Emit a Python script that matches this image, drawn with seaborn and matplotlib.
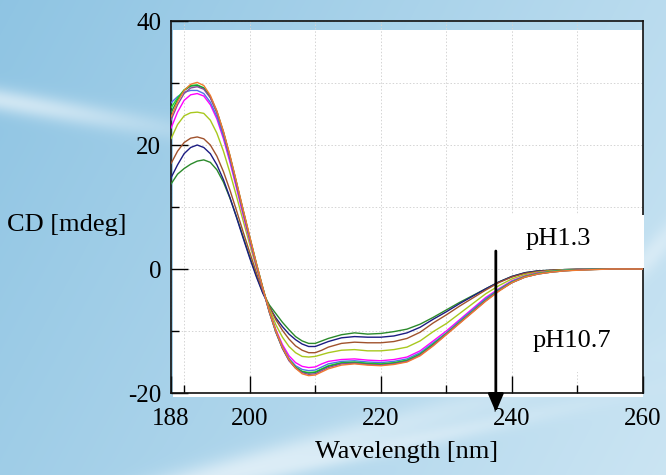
import numpy as np
import pandas as pd
import matplotlib
matplotlib.use("Agg")
import matplotlib.pyplot as plt
import seaborn as sns
from matplotlib.patches import Rectangle
from matplotlib.ticker import FixedLocator

# wavelength grid [nm]
wavelength = [188, 189, 190, 191, 192, 193, 194, 195, 196, 197, 198, 199, 200,
              201, 202, 203, 204, 205, 206, 207, 208, 209, 210, 211, 212,
              214, 216, 218, 220, 222, 224, 226, 228, 230, 232, 234, 236, 238,
              240, 242, 244, 246, 248, 250, 255, 260]

# CD [mdeg], curve 1 = pH1.3 ... curve 10 = pH10.7
cd_1 = [13.7, 15.3, 16.2, 16.9, 17.4, 17.6, 17.2, 16.0, 14.0, 11.4, 8.4, 5.2, 2.0,
        -1.0, -3.8, -5.8, -7.2, -8.6, -9.8, -10.9, -11.6, -12.0, -12.0, -11.6, -11.2,
        -10.6, -10.3, -10.5, -10.4, -10.1, -9.7, -8.9, -7.8, -6.6, -5.4, -4.3, -3.2, -2.1,
        -1.2, -0.6, -0.3, -0.2, -0.1, -0.05, 0, 0]
cd_2 = [14.7, 16.8, 18.6, 19.6, 20.0, 19.6, 18.6, 16.8, 14.4, 11.5, 8.3, 5.0, 1.8,
        -1.2, -3.9, -6.1, -7.9, -9.3, -10.5, -11.4, -12.1, -12.5, -12.5, -12.1, -11.7,
        -11.1, -10.9, -11.0, -11.0, -10.8, -10.3, -9.4, -8.1, -6.9, -5.6, -4.4, -3.2, -2.1,
        -1.2, -0.6, -0.3, -0.2, -0.1, -0.05, 0, 0]
cd_3 = [17.0, 19.0, 20.4, 21.1, 21.3, 21.0, 20.0, 18.2, 15.7, 12.7, 9.4, 6.0, 2.7,
        -0.5, -3.5, -6.1, -8.2, -9.9, -11.3, -12.4, -13.1, -13.5, -13.5, -13.1, -12.6,
        -12.0, -11.8, -11.9, -11.9, -11.7, -11.2, -10.2, -8.7, -7.4, -6.0, -4.7, -3.4, -2.2,
        -1.3, -0.7, -0.4, -0.2, -0.1, -0.05, 0, 0]
cd_4 = [21.0, 23.3, 24.7, 25.2, 25.3, 25.1, 24.0, 21.9, 19.0, 15.5, 11.7, 7.8, 4.0,
        0.3, -3.2, -6.4, -9.0, -11.0, -12.5, -13.5, -14.1, -14.2, -14.1, -13.8, -13.5,
        -13.1, -13.0, -13.2, -13.2, -13.0, -12.6, -11.6, -10.1, -8.8, -7.2, -5.6, -4.0, -2.7,
        -1.6, -0.9, -0.5, -0.3, -0.15, -0.1, 0, 0]
cd_5 = [22.7, 25.3, 27.2, 28.1, 28.3, 27.9, 26.5, 24.2, 21.0, 17.2, 13.0, 8.7, 4.6,
        0.6, -3.2, -6.8, -9.8, -12.2, -14.0, -15.1, -15.7, -15.9, -15.8, -15.3, -14.9,
        -14.6, -14.5, -14.7, -14.8, -14.6, -14.2, -13.2, -11.6, -10.0, -8.2, -6.4, -4.6, -3.2,
        -1.9, -1.1, -0.6, -0.4, -0.2, -0.1, 0, 0]
cd_6 = [26.8, 27.8, 28.5, 28.8, 28.8, 28.3, 26.9, 24.6, 21.4, 17.6, 13.4, 9.1, 4.9,
        0.8, -3.1, -6.8, -10.0, -12.5, -14.4, -15.6, -16.2, -16.4, -16.3, -15.8, -15.3,
        -14.9, -14.8, -15.0, -15.1, -14.9, -14.5, -13.5, -11.9, -10.3, -8.4, -6.6, -4.8, -3.3,
        -2.0, -1.2, -0.7, -0.4, -0.2, -0.1, 0, 0]
cd_7 = [26.0, 27.6, 28.9, 29.6, 29.7, 29.2, 27.7, 25.3, 22.0, 18.1, 13.8, 9.4, 5.1,
        0.9, -3.1, -6.9, -10.1, -12.7, -14.6, -15.8, -16.5, -16.7, -16.6, -16.1, -15.6,
        -15.1, -15.0, -15.2, -15.3, -15.1, -14.7, -13.7, -12.1, -10.4, -8.6, -6.8, -5.0, -3.4,
        -2.1, -1.2, -0.7, -0.4, -0.2, -0.1, 0, 0]
cd_8 = [25.2, 27.3, 28.8, 29.5, 29.6, 29.2, 27.8, 25.4, 22.1, 18.2, 13.9, 9.5, 5.2,
        1.0, -3.0, -6.9, -10.2, -12.8, -14.7, -15.9, -16.6, -16.8, -16.7, -16.2, -15.7,
        -15.2, -15.1, -15.3, -15.4, -15.2, -14.8, -13.8, -12.2, -10.5, -8.7, -6.9, -5.1, -3.5,
        -2.2, -1.3, -0.8, -0.5, -0.3, -0.15, 0, 0]
cd_9 = [24.0, 26.5, 28.3, 29.2, 29.4, 29.0, 27.6, 25.2, 21.9, 18.0, 13.7, 9.3, 5.0,
        0.8, -3.2, -7.0, -10.2, -12.8, -14.8, -16.0, -16.7, -17.0, -16.9, -16.4, -15.9,
        -15.3, -15.2, -15.4, -15.5, -15.3, -14.9, -13.9, -12.3, -10.5, -8.7, -6.9, -5.1, -3.5,
        -2.2, -1.3, -0.8, -0.5, -0.3, -0.15, 0, 0]
cd_10 = [24.5, 27.0, 28.8, 29.8, 30.1, 29.6, 28.0, 25.5, 22.2, 18.3, 14.0, 9.6, 5.3,
         1.0, -3.0, -6.8, -10.0, -12.6, -14.6, -16.0, -16.9, -17.2, -17.1, -16.6, -16.1,
         -15.5, -15.3, -15.5, -15.6, -15.4, -15.0, -14.0, -12.4, -10.6, -8.8, -7.0, -5.2, -3.6,
         -2.2, -1.3, -0.8, -0.5, -0.3, -0.2, 0, 0]

curves = [cd_1, cd_2, cd_3, cd_4, cd_5, cd_6, cd_7, cd_8, cd_9, cd_10]
curve_names = ["curve %d" % (i + 1) for i in range(len(curves))]
curve_colors = ["#2b8a2b", "#1c1c82", "#a0522d", "#a8c81e", "#ff00ff",
                "#4f6fe8", "#22dd22", "#179a3a", "#8a4a9a", "#f07a30"]

x_ticks = [188, 200, 220, 240, 260]
x_minor = [190, 210, 230, 250]
y_ticks = [-20, 0, 20, 40]
y_minor = [-10, 10, 30]

df = pd.concat([pd.DataFrame({"wavelength": wavelength, "cd": vals, "curve": name})
                for name, vals in zip(curve_names, curves)], ignore_index=True)

sns.set_theme(style="ticks")
plt.rcParams['font.family'] = ['Liberation Serif', 'DejaVu Serif']
plt.rcParams['axes.unicode_minus'] = False
plt.rcParams['text.color'] = 'black'
plt.rcParams['axes.labelcolor'] = 'black'
plt.rcParams['xtick.color'] = 'black'
plt.rcParams['ytick.color'] = 'black'

fig = plt.figure(figsize=(6.66, 4.75), dpi=100)

# sky-blue backdrop with a few light streaks
H, W = 475, 666
yy, xx = np.mgrid[0:1:H * 1j, 0:1:W * 1j]
t = np.clip(0.65 * xx + 0.25 * yy, 0, 1)[..., None]
img = np.array([0.56, 0.77, 0.89]) * (1 - t) + np.array([0.82, 0.91, 0.96]) * t
for x0, y0, slope, width, strength, span in [(0.0, 0.21, 0.24, 0.025, 0.55, 0.25),
                                             (0.35, 0.99, -0.38, 0.03, 0.5, 0.4),
                                             (0.55, 0.95, -0.30, 0.02, 0.4, 0.3),
                                             (0.97, 0.55, -1.5, 0.02, 0.35, 0.1)]:
    dist = np.abs((yy - y0) - slope * (xx - x0)) / np.sqrt(1 + slope ** 2)
    mask = np.exp(-(dist / width) ** 2) * np.exp(-((xx - x0) / span) ** 2)
    img = img + (strength * mask)[..., None] * (1 - img)
bg = fig.add_axes([0, 0, 1, 1], zorder=-10)
bg.imshow(np.clip(img, 0, 1), extent=[0, 1, 0, 1], aspect="auto")
bg.axis("off")

ax = fig.add_axes([171 / 666, 1 - 393 / 475, 472 / 666, 372 / 475])
ax.set_facecolor("none")
ax.add_patch(Rectangle((0.004, -0.011), 0.996, 0.988, transform=ax.transAxes,
                       facecolor="white", edgecolor="none", zorder=0, clip_on=False))

sns.lineplot(data=df, x="wavelength", y="cd", hue="curve", palette=curve_colors,
             linewidth=1.0, legend=False, ax=ax, zorder=3, sort=False)

ax.set_xlim(188, 260)
ax.set_ylim(-20, 40)
ax.xaxis.set_major_locator(FixedLocator(x_ticks))
ax.xaxis.set_minor_locator(FixedLocator(x_minor))
ax.yaxis.set_major_locator(FixedLocator(y_ticks))
ax.yaxis.set_minor_locator(FixedLocator(y_minor))
ax.grid(True, which="both", color="#d4d4d4", linestyle=(0, (1.5, 2)), linewidth=0.7)
ax.set_axisbelow(True)
ax.tick_params(which="major", direction="in", length=12, width=1, labelsize=18,
               color="black", labelcolor="black", pad=7)
ax.tick_params(which="minor", direction="in", length=6, width=1, color="black")
ax.tick_params(axis="x", which="major", pad=11)
for s in ax.spines.values():
    s.set_color("#111111")
    s.set_linewidth(1.2)

# white label boxes on the right
ax.add_patch(Rectangle((238.9, 0.2), 21.3, 8.5, facecolor="white", edgecolor="none",
                       zorder=2.6, clip_on=False))
ax.add_patch(Rectangle((240.9, -16.6), 18.9, 16.3, facecolor="white", edgecolor="none",
                       zorder=2.6, clip_on=False))
ax.text(247.0, 3.9, "pH1.3", fontsize=19, ha="center", va="baseline", zorder=4,
        color="black")
ax.text(249.2, -12.5, "pH10.7", fontsize=19, ha="center", va="baseline", zorder=4,
        color="black")

ax.annotate("", xy=(237.55, -23.1), xytext=(237.55, 2.9),
            arrowprops=dict(arrowstyle="-|>,head_length=1.1,head_width=0.47",
                            mutation_scale=10, color="black", lw=2,
                            shrinkA=0, shrinkB=0),
            annotation_clip=False, zorder=5)

ax.set_xlabel("Wavelength [nm]", fontsize=19, labelpad=8, color="black")
ax.set_ylabel("")
fig.text(7 / 666, 1 - 225 / 475, "CD [mdeg]", fontsize=19, ha="left", va="center",
         color="black")

fig.savefig("out.png", dpi=100)
